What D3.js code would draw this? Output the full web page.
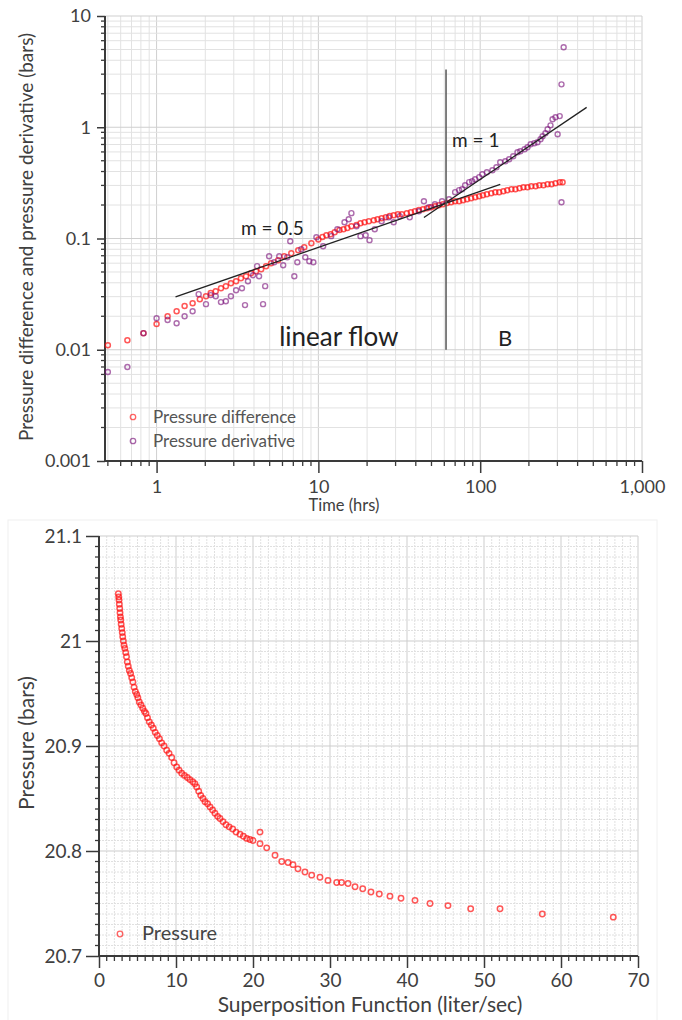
<!DOCTYPE html>
<html><head><meta charset="utf-8">
<script src="https://cdn.jsdelivr.net/npm/d3@7/dist/d3.min.js"></script>
<style>
html,body{margin:0;padding:0;background:#fff;}
svg{display:block;font-family:Lato,"Open Sans",sans-serif;}
</style></head>
<body>
<svg id="c" width="682" height="1020"></svg>
<script>
// ---------- Top chart data (log-log) ----------
const timeDiff = [0.50,0.66,0.83,1.0,1.17,1.33,1.49,1.67,1.85,2.02,2.16,2.32,2.50,2.68,2.88,3.10,3.32,3.57,3.83,4.12,4.43,4.75,5.10,5.64,6.15,6.80,7.51,8.18,9.05,10.0,
10.6,11.2,11.9,12.6,13.5,14.3,15.1,16.0,17.2,18.2,19.3,20.5,22.0,23.2,24.6,26.1,27.6,29.2,31.0,32.8,35.2,37.3,39.5,41.8,44.3,46.9,49.7,52.6,55.6,58.9,
62.4,66.1,70.0,74.1,78.4,83.0,87.9,93.1,98.6,104,110,117,124,131,139,147,156,165,175,185,196,207,220,232,246,261,276,292,310,323];
const pressDiff = [0.0110,0.0122,0.0141,0.0170,0.0200,0.0222,0.0247,0.0262,0.0285,0.0303,0.0323,0.0336,0.0357,0.0373,0.0397,0.0413,0.0440,0.0458,0.0488,0.0508,0.0530,0.0564,0.0600,0.0638,0.0693,0.0738,0.0785,0.0835,0.0907,0.098,
0.103,0.107,0.109,0.114,0.119,0.121,0.124,0.129,0.132,0.137,0.140,0.143,0.146,0.149,0.152,0.155,0.159,0.162,0.165,0.165,0.169,0.172,0.176,0.180,0.183,0.187,0.191,0.195,0.199,0.203,
0.208,0.212,0.216,0.216,0.221,0.225,0.230,0.235,0.240,0.245,0.250,0.255,0.261,0.261,0.266,0.272,0.277,0.277,0.283,0.289,0.289,0.295,0.295,0.301,0.301,0.307,0.307,0.314,0.321,0.321];

const timeDeriv = [0.50,0.66,0.83,1.0,1.17,1.33,1.49,1.67,1.82,2.02,2.16,2.32,2.50,2.68,2.88,3.10,3.37,3.52,3.67,3.95,4.18,4.30,4.55,4.69,4.96,5.33,5.73,6.06,6.42,6.70,
7.10,7.41,7.84,8.30,8.79,9.31,9.72,10.7,12.0,13.1,14.5,15.4,16.0,17.2,18.2,19.6,20.7,22.3,24.6,27.2,29.2,31.8,36.7,41.8,44.9,48.2,52.5,58.1,64.2,70.0,
74.1,77.3,80.7,85.5,89.2,93.1,98.6,103,110,119,126,133,143,151,160,170,177,188,196,205,216,226,236,243,253,261,272,280,292,301,310,318,318,328];
const pressDeriv = [0.0063,0.0070,0.0141,0.0192,0.0185,0.0173,0.0200,0.0222,0.0316,0.0257,0.0310,0.0303,0.0268,0.0273,0.0303,0.0343,0.0357,0.0252,0.0413,0.0468,0.0564,0.0458,0.0257,0.0373,0.0693,0.0612,0.0693,0.0575,0.0679,0.0945,
0.0458,0.0612,0.0801,0.0679,0.0625,0.0612,0.1027,0.0853,0.105,0.121,0.140,0.149,0.169,0.129,0.105,0.107,0.0966,0.121,0.143,0.155,0.140,0.159,0.155,0.176,0.216,0.191,0.203,0.216,0.225,0.261,
0.272,0.277,0.301,0.321,0.327,0.341,0.356,0.378,0.394,0.411,0.437,0.485,0.495,0.516,0.549,0.596,0.609,0.634,0.661,0.703,0.718,0.733,0.780,0.830,0.883,0.959,1.04,1.18,1.23,0.865,1.26,2.43,0.212,5.23];

const xTicksTop = [1,10,100,1000];
const xTickLabelsTop = ["1","10","100","1,000"];
const yTicksTop = [0.001,0.01,0.1,1,10];
const yTickLabelsTop = ["0.001","0.01","0.1","1","10"];

// straight-line annotations (data coordinates)
const lineHalf = [[1.31,0.0299],[133,0.306]];
const lineOne = [[44.9,0.1545],[455,1.51]];
const lineBoundary = [[61.5,0.01],[61.5,3.3]];

// ---------- Bottom chart data ----------
const superpos = [2.51,2.56,2.60,2.64,2.69,2.73,2.78,2.82,2.88,2.95,3.02,3.08,3.16,3.25,3.35,3.47,3.57,3.68,3.80,3.94,4.10,4.25,4.40,4.55,4.72,4.90,5.05,5.23,5.45,5.68,5.90,6.10,6.30,6.53,6.80,7.05,7.30,7.57,7.85,8.14,8.45,8.79,9.10,9.44,9.75,10.09,10.40,10.74,11.10,11.47,11.80,12.17,12.45,12.69,12.95,13.21,13.50,13.77,14.10,14.42,14.75,15.06,15.40,15.71,16.10,16.49,16.90,17.36,17.80,18.31,18.75,19.18,19.60,20.0,20.91,20.91,21.78,22.86,23.73,24.55,25.19,25.84,26.75,27.62,28.70,29.74,30.87,31.5,32.34,33.25,34.25,35.32,36.40,37.79,39.22,41.04,42.99,45.32,48.27,52.08,57.57,66.79];
const pressure = [21.045,21.042,21.039,21.035,21.031,21.027,21.023,21.020,21.016,21.012,21.008,21.004,21.000,20.996,20.993,20.989,20.985,20.980,20.976,20.972,20.969,20.965,20.961,20.956,20.952,20.949,20.946,20.942,20.939,20.936,20.933,20.931,20.927,20.923,20.920,20.917,20.913,20.910,20.907,20.903,20.900,20.896,20.893,20.889,20.884,20.880,20.877,20.874,20.872,20.870,20.868,20.866,20.864,20.861,20.857,20.853,20.850,20.847,20.845,20.842,20.839,20.836,20.833,20.831,20.828,20.825,20.823,20.821,20.818,20.816,20.814,20.812,20.811,20.810,20.807,20.818,20.803,20.796,20.790,20.789,20.787,20.783,20.780,20.777,20.775,20.772,20.770,20.770,20.769,20.766,20.764,20.761,20.759,20.757,20.755,20.753,20.750,20.748,20.745,20.745,20.740,20.737];
const xTicksBot = [0,10,20,30,40,50,60,70];
const yTicksBot = [20.7,20.8,20.9,21,21.1];

// ---------- drawing ----------
const svg = d3.select("#c");
const TXT = "#404040";
const AX = "#3a3a3a";
const RED = "#ff1010";
const PUR = "#7a127a";

// ===== TOP =====
const x1 = d3.scaleLog().domain([0.48,1000]).range([105,642]);
const y1 = d3.scaleLog().domain([0.001,10]).range([461,16]);

function logMinors(lo, hi){
  const out=[];
  for(let e=-4;e<=3;e++) for(let k=1;k<=9;k++){const v=k*Math.pow(10,e); if(v>=lo*0.999 && v<=hi*1.001) out.push({v, major:k===1});}
  return out;
}
const gTop = svg.append("g");
const xMin1 = logMinors(0.48,1000), yMin1 = logMinors(0.001,10);
gTop.append("g").selectAll("line").data(xMin1).join("line")
  .attr("x1",d=>x1(d.v)).attr("x2",d=>x1(d.v)).attr("y1",16).attr("y2",461)
  .attr("stroke",d=>d.major?"#cfcfcf":"#e2e2e2").attr("stroke-width",1);
gTop.append("g").selectAll("line").data(yMin1).join("line")
  .attr("y1",d=>y1(d.v)).attr("y2",d=>y1(d.v)).attr("x1",105).attr("x2",642)
  .attr("stroke",d=>d.major?"#cfcfcf":"#e2e2e2").attr("stroke-width",1);

// axes
const xAxTop = gTop.append("g").attr("transform","translate(0,461)");
xAxTop.call(d3.axisBottom(x1).tickValues(xTicksTop).tickFormat((d,i)=>xTickLabelsTop[i]).tickSize(12).tickPadding(7));
xAxTop.append("g").selectAll("line").data(xMin1.filter(d=>!d.major)).join("line")
  .attr("x1",d=>x1(d.v)).attr("x2",d=>x1(d.v)).attr("y1",0).attr("y2",5).attr("stroke",AX).attr("stroke-width",1.3);
const yAxTop = gTop.append("g").attr("transform","translate(105,0)");
yAxTop.call(d3.axisLeft(y1).tickValues(yTicksTop).tickFormat((d,i)=>yTickLabelsTop[i]).tickSize(8).tickPadding(6));
yAxTop.append("g").selectAll("line").data(yMin1.filter(d=>!d.major)).join("line")
  .attr("y1",d=>y1(d.v)).attr("y2",d=>y1(d.v)).attr("x1",0).attr("x2",-4).attr("stroke",AX).attr("stroke-width",1.3);
[xAxTop,yAxTop].forEach(a=>{
  a.select(".domain").attr("stroke",AX).attr("stroke-width",2);
  a.selectAll(".tick line").attr("stroke",AX).attr("stroke-width",1.5);
  a.selectAll(".tick text").attr("fill",TXT).attr("font-size",18).attr("font-family","Lato");
});
yAxTop.select(".domain").attr("d","M0,16V461");
xAxTop.select(".domain").attr("d","M105,0H642");

// points
const pairsDiff = timeDiff.map((t,i)=>[t,pressDiff[i]]);
const pairsDer = timeDeriv.map((t,i)=>[t,pressDeriv[i]]);
gTop.append("g").selectAll("circle").data(pairsDiff).join("circle")
  .attr("cx",d=>x1(d[0])).attr("cy",d=>y1(d[1])).attr("r",2.5)
  .attr("fill","none").attr("stroke",RED).attr("stroke-opacity",0.7).attr("stroke-width",1.5);
gTop.append("g").selectAll("circle").data(pairsDer).join("circle")
  .attr("cx",d=>x1(d[0])).attr("cy",d=>y1(d[1])).attr("r",2.5)
  .attr("fill","none").attr("stroke",PUR).attr("stroke-opacity",0.62).attr("stroke-width",1.4);

// lines
const ln = d3.line().x(d=>x1(d[0])).y(d=>y1(d[1]));
gTop.append("path").attr("d",ln(lineHalf)).attr("stroke","#222").attr("stroke-width",1.3).attr("fill","none");
gTop.append("path").attr("d",ln(lineOne)).attr("stroke","#222").attr("stroke-width",1.3).attr("fill","none");
gTop.append("path").attr("d",ln(lineBoundary)).attr("stroke","#555").attr("stroke-width",1.5).attr("fill","none");

// annotations
const ann = [
  {t:"m = 0.5", x:3.32, y:0.107, s:19},
  {t:"m = 1", x:67, y:0.661, s:19},
  {t:"linear flow", x:5.72, y:0.0109, s:26},
  {t:"B", x:129, y:0.0109, s:22}
];
gTop.append("g").selectAll("text").data(ann).join("text")
  .attr("x",d=>x1(d.x)).attr("y",d=>y1(d.y)).attr("font-size",d=>d.s).attr("fill","#222").text(d=>d.t);

// legend
const legTop = [{c:RED,t:"Pressure difference",y:417},{c:PUR,t:"Pressure derivative",y:441}];
const lg = gTop.append("g");
lg.selectAll("circle").data(legTop).join("circle").attr("cx",133).attr("cy",d=>d.y).attr("r",2.7)
  .attr("fill","none").attr("stroke",d=>d.c).attr("stroke-opacity",0.65).attr("stroke-width",1.3);
lg.selectAll("text").data(legTop).join("text").attr("x",153).attr("y",d=>d.y+6).attr("font-size",17).attr("fill","#555").text(d=>d.t);

// titles
gTop.append("text").attr("x",344).attr("y",511).attr("text-anchor","middle").attr("font-size",16.5).attr("fill",TXT).text("Time (hrs)");
gTop.append("text").attr("transform","translate(33,237) rotate(-90)").attr("text-anchor","middle").attr("font-size",19).attr("fill",TXT)
  .text("Pressure difference and pressure derivative (bars)");

// ===== BOTTOM =====
const gBot = svg.append("g");
gBot.append("rect").attr("x",8).attr("y",520).attr("width",649).attr("height",505).attr("fill","none").attr("stroke","#f0f0f0");
const x2 = d3.scaleLinear().domain([0,70]).range([99,638]);
const y2 = d3.scaleLinear().domain([20.7,21.1]).range([956,536]);
const xMinor2 = d3.range(0,71,1), yMinor2 = d3.range(0,41,1).map(i=>+(20.7+i*0.01).toFixed(2));
gBot.append("g").selectAll("line").data(xMinor2).join("line")
  .attr("x1",d=>x2(d)).attr("x2",d=>x2(d)).attr("y1",536).attr("y2",956)
  .attr("stroke",d=>d%10===0?"#cdcdcd":"#e0e0e0").attr("stroke-width",1)
  .attr("stroke-dasharray",d=>d%10===0?null:"2,1");
gBot.append("g").selectAll("line").data(yMinor2).join("line")
  .attr("y1",d=>y2(d)).attr("y2",d=>y2(d)).attr("x1",99).attr("x2",638)
  .attr("stroke",(d,i)=>i%10===0?"#cdcdcd":"#e0e0e0").attr("stroke-width",1)
  .attr("stroke-dasharray",(d,i)=>i%10===0?null:"2,1");

const xAxBot = gBot.append("g").attr("transform","translate(0,956)");
xAxBot.call(d3.axisBottom(x2).tickValues(xTicksBot).tickFormat(d3.format("d")).tickSize(12).tickPadding(6));
xAxBot.append("g").selectAll("line").data(xMinor2.filter(d=>d%10!==0)).join("line")
  .attr("x1",d=>x2(d)).attr("x2",d=>x2(d)).attr("y1",0).attr("y2",5).attr("stroke",AX).attr("stroke-width",1.3);
const yAxBot = gBot.append("g").attr("transform","translate(99,0)");
yAxBot.call(d3.axisLeft(y2).tickValues(yTicksBot).tickFormat(d=>d3.format("")(+d.toFixed(1))).tickSize(13).tickPadding(4));
yAxBot.append("g").selectAll("line").data(yMinor2.filter((d,i)=>i%10!==0)).join("line")
  .attr("y1",d=>y2(d)).attr("y2",d=>y2(d)).attr("x1",0).attr("x2",-4).attr("stroke",AX).attr("stroke-width",1.3);
[xAxBot,yAxBot].forEach(a=>{
  a.select(".domain").attr("stroke",AX).attr("stroke-width",2);
  a.selectAll(".tick line").attr("stroke",AX).attr("stroke-width",1.5);
  a.selectAll(".tick text").attr("fill",TXT).attr("font-size",19).attr("font-family","Lato");
});
yAxBot.select(".domain").attr("d","M0,536V956");
xAxBot.select(".domain").attr("d","M99,0H638");

const pairsBot = superpos.map((s,i)=>[s,pressure[i]]);
gBot.append("g").selectAll("circle").data(pairsBot).join("circle")
  .attr("cx",d=>x2(d[0])).attr("cy",d=>y2(d[1])).attr("r",2.7)
  .attr("fill","none").attr("stroke",RED).attr("stroke-opacity",0.7).attr("stroke-width",1.5);

gBot.append("circle").attr("cx",120).attr("cy",934).attr("r",2.8).attr("fill","none").attr("stroke",RED).attr("stroke-opacity",0.65).attr("stroke-width",1.3);
gBot.append("text").attr("x",142).attr("y",940).attr("font-size",20).attr("fill","#444").text("Pressure");

gBot.append("text").attr("x",370).attr("y",1012).attr("text-anchor","middle").attr("font-size",21).attr("fill",TXT).text("Superposition Function (liter/sec)");
gBot.append("text").attr("transform","translate(34,743) rotate(-90)").attr("text-anchor","middle").attr("font-size",21).attr("fill",TXT).text("Pressure (bars)");
</script>
</body></html>
